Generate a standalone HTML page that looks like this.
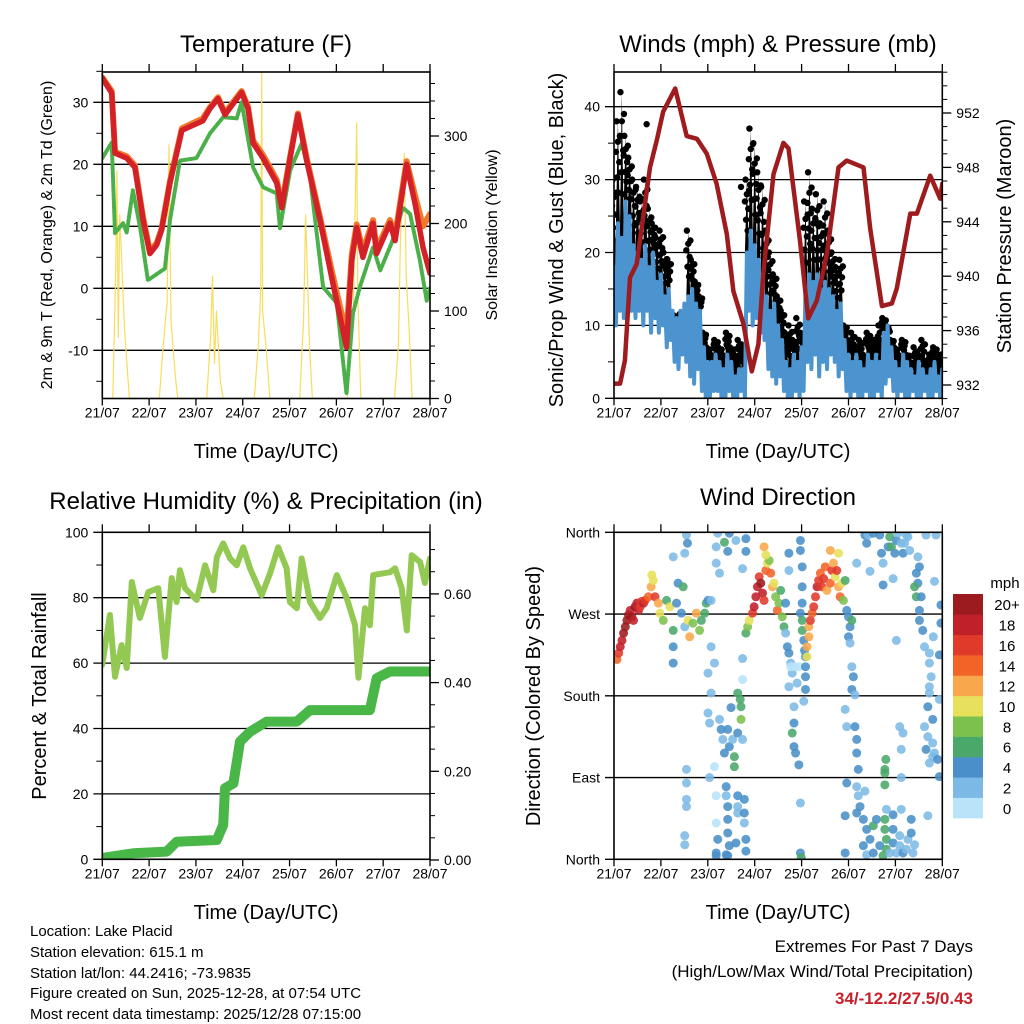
<!DOCTYPE html>
<html><head><meta charset="utf-8"><title>Lake Placid station meteogram</title>
<style>
html,body{margin:0;padding:0;background:#fff;}
svg{display:block;font-family:"Liberation Sans",Arial,sans-serif;}
.t{font-size:24px;fill:#000;text-anchor:middle;}
.xt{font-size:20px;fill:#000;text-anchor:middle;}
.at16{font-size:16px;fill:#000;text-anchor:middle;}
.at20{font-size:20px;fill:#000;text-anchor:middle;}
.info{font-size:15px;fill:#000;}
</style></head>
<body>
<svg id="chart" width="1024" height="1024" viewBox="0 0 1024 1024">
<defs>
<clipPath id="c1"><rect x="102.3" y="72" width="327.7" height="326.5"/></clipPath>
<clipPath id="c2"><rect x="614" y="72" width="328.3" height="326.3"/></clipPath>
<clipPath id="c3"><rect x="102.3" y="532.3" width="327.7" height="327"/></clipPath>
<clipPath id="c4"><rect x="614" y="532.3" width="328.3" height="327"/></clipPath>
</defs>
<text class="t" x="266" y="52">Temperature (F)</text>
<text class="t" x="778" y="52">Winds (mph) &amp; Pressure (mb)</text>
<text class="t" x="266" y="509">Relative Humidity (%) &amp; Precipitation (in)</text>
<text class="t" x="778" y="505">Wind Direction</text>
<text class="xt" x="266" y="458">Time (Day/UTC)</text>
<text class="xt" x="778" y="458">Time (Day/UTC)</text>
<text class="xt" x="266" y="919">Time (Day/UTC)</text>
<text class="xt" x="778" y="919">Time (Day/UTC)</text>
<text class="at16" transform="translate(52,235) rotate(-90)">2m &amp; 9m T (Red, Orange) &amp; 2m Td (Green)</text>
<text class="at16" transform="translate(497,235) rotate(-90)">Solar Insolation (Yellow)</text>
<text class="at20" transform="translate(563,240) rotate(-90)">Sonic/Prop Wind &amp; Gust (Blue, Black)</text>
<text class="at20" transform="translate(1011,236) rotate(-90)">Station Pressure (Maroon)</text>
<text class="at20" transform="translate(46,696) rotate(-90)">Percent &amp; Total Rainfall</text>
<text class="at20" transform="translate(540,696) rotate(-90)">Direction (Colored By Speed)</text>
<g>
<text class="info" x="30" y="936">Location: Lake Placid</text>
<text class="info" x="30" y="957">Station elevation: 615.1 m</text>
<text class="info" x="30" y="978">Station lat/lon: 44.2416; -73.9835</text>
<text class="info" x="30" y="998">Figure created on Sun, 2025-12-28, at 07:54 UTC</text>
<text class="info" x="30" y="1019">Most recent data timestamp: 2025/12/28 07:15:00</text>
</g>
<g>
<text x="973" y="952" style="font-size:17px;text-anchor:end">Extremes For Past 7 Days</text>
<text x="973" y="977" style="font-size:17px;text-anchor:end">(High/Low/Max Wind/Total Precipitation)</text>
<text x="973" y="1004" style="font-size:17px;text-anchor:end;font-weight:bold;fill:#c8202a">34/-12.2/27.5/0.43</text>
</g>
<text x="1005" y="588" style="font-size:15px;text-anchor:middle">mph</text>
</svg>
<script>
// ---------- data ----------
const dayLabels = ["21/07","22/07","23/07","24/07","25/07","26/07","27/07","28/07"];
const tempHours = [0,4.8,6.5,12.5,16.7,20.9,24.4,27.9,30.4,34.7,40.8,51.5,55.2,59.3,62.9,71.4,74.7,77.3,82.4,89.4,92,96.3,100.3,104.8,111.6,118.2,125.2,127.9,130.4,133.6,138.8,140.6,147.5,150.1,156,160.3,164.4,168];
const temp2m = [33.9,31.5,21.8,21,19.5,11,5.6,7,9.4,17,25.5,27,29,30.6,28,31.6,29,23.4,21,17,13,21,28,20.6,11,0.8,-9.5,4.5,9.8,5,10.5,5.6,10.5,7.7,20,13.7,6.6,2.4];
const temp9m = [34,31.8,22,21.3,19.8,11.4,6,7.3,9.6,17.3,25.8,27.4,29.2,30.8,28.3,31.8,29.3,23.8,21.5,17.5,13.5,21.2,28.2,21,11.5,2,-7.5,5.5,10.3,6,11,6.3,11,8.5,20.5,15,10,12];
const dewHours = [0,4.8,6.5,10.6,12.5,15.7,19.4,23.4,32.1,34.7,39.8,48.3,55.2,62,68.9,71.4,77.3,82.4,89.4,91.1,96.3,102.2,106.5,113.2,120.2,125.2,128.5,132,138.8,142.5,148.3,154.1,157.8,162.8,166.3,168];
const dewpoint = [21,23.5,8.9,10.5,9,15.8,9.8,1.3,3.2,11,20.6,21,25,27.6,27.4,30,19.5,16.3,15.3,9.7,19,23.4,18,0.2,-2.4,-17,-4,0.2,6.6,2.9,7.3,13,12,4.5,-2,0];
const solarHours = [0,5.4,6.9,7.5,8.2,8.9,9.9,11.4,12.9,13.9,29.2,31.2,33.2,34.2,35.2,36.2,37.7,38.7,53.5,55.5,56.5,57.5,58.5,60.5,62,77.9,79.9,81.2,81.7,82.2,83.9,85.9,101.2,103.2,104.2,105.2,106.2,107.7,125.5,127.5,128.5,129.5,130.4,131,132.5,149.8,151.8,152.8,154.8,155.8,157.3,158.8,168];
const solarValues = [0,0,150,260,70,210,160,80,30,0,0,60,110,290,90,60,20,0,0,70,140,40,100,20,0,0,60,120,372,100,60,0,0,90,210,140,60,0,0,100,80,200,315,120,0,0,60,180,280,140,80,0,0];
const tempTicks = [-10,0,10,20,30];
const solarTicks = [0,100,200,300];

const windHi = [18,24,22,27,25,21, 20,19,21,18,20, 16,17,14,15, 12,11,12,13, 14,15,13,12, 7,5,5, 6,5,4,6,5,3,4,4, 20,23,21,19,17, 14,12,13,10,8, 5,4,6,5,7, 15,17,16,17,15,16,15, 14,12,13,8, 6,5,6,5,4,6,5,6,5, 9,10,7, 5,4,6,5,4,3,5,4,3,4,5,3,4];
const windLo = [10,12,11,13,12,11, 12,10,12,9,11, 9,10,7,8, 5,4,6,5, 3,2,4,1, 0,0,1, 1,0,0,1,0,0,1,0, 12,10,11,9,8, 4,3,2,3,1, 0,0,1,0,1, 5,4,6,3,5,4,6, 5,3,4,1, 0,1,0,0,1,0,0,1,0, 2,3,1, 0,1,0,0,1,0,0,1,0,0,1,0,0];
const gust = [30,38,42,36,33,30, 29,27,30,26,24, 22,23,20,19, 10,9,11,8, 23,19,16,14, 9,7,6, 8,7,6,9,7,6,8,7, 30,37,35,31,29, 23,20,17,14,12, 9,10,8,11,9, 27,31,26,28,24,27,23, 20,18,19,10, 8,9,7,8,6,9,7,8,10, 11,9,8, 7,6,8,6,5,7,6,8,5,6,7,6,6];
const gustExtraHours = [16.7,65];
const gustExtraValues = [37.6,29];
const pressHours = [0,3.1,5.6,8.2,11.6,18.4,21.9,25.2,31.3,37.2,42.4,47.5,52.5,57.7,61.1,66.2,70.5,73.9,76.4,81.6,86.7,89.3,95.2,99.4,103.8,108.9,114.9,119.1,127.7,131.1,137.1,142.2,144.7,151.6,155,161.8,166.9,168];
const pressure = [932.1,932.1,933.8,939.9,940.9,948,950,952.1,953.8,950.3,950.1,949,946.8,943.1,938.9,936.5,933,935,940.2,947.5,949.8,949.4,942.6,936.9,938.2,941.6,948,948.5,948,943.5,937.8,938,939.1,944.6,944.6,947.4,945.7,946.8];
const windTicks = [0,10,20,30,40];
const pressTicks = [932,936,940,944,948,952];

const rhHours = [0,3.9,6.5,9.9,12.5,15.1,19.3,23.6,28.7,32.1,35.6,38.1,39.8,42.4,48.4,52.7,56.9,58.7,62,65.5,68.9,72.3,75.7,81.7,86,90.2,94.5,96.2,99.7,102.2,106.5,111.6,115,120.2,125.3,129.6,131.3,134.7,137.2,138.9,147.5,150.1,153.5,156.1,158.6,162.9,165.4,168];
const rhValues = [59.5,74.7,55.8,65.5,58.5,84.8,73.8,81.7,82.9,61.9,86,78.7,88.4,82.9,79.3,89.9,82.3,92.4,96.6,92,89.9,95.4,89,80.8,87.5,95.4,89,78.7,76.8,92,78.7,73.8,76.8,86.9,79.9,71.6,55.5,76.8,71.6,86.9,87.8,89,82.9,70,93,90.9,84.5,92];
const precipHours = [0,0.5,15.9,33,38.1,58.7,62,62.9,67.2,70.6,75.7,84.3,99.7,106.5,137.2,140.7,147.5,168];
const precipValues = [0,0.005,0.015,0.019,0.041,0.045,0.079,0.162,0.173,0.267,0.289,0.312,0.312,0.338,0.338,0.41,0.425,0.425];
const rhTicks = [0,20,40,60,80,100];
const precipTicks = ["0.00","0.20","0.40","0.60"];

const dirHours = [1.5,2.4,3.2,4.1,4.9,5.8,6.6,7.4,8.3,9.1,10,10.8,11.7,12.5,13.4,14.2,15.1,15.9,17.6,19,19.3,20.1,21,22.7,23.5,25.2,26.9,28.6,30.3,32,32.8,34.5,35.4,36.2,37.9,38.7,40.4,42.1,43.8,44.7,46.4,47.2,48.1,
37.1,37.6,36.2,30.3,30.3,30.3,49.7,49.7,51.4,48.1,49.7,53.1,52.3,56.5,59,58.2,52.3,54,62.4,67.5,67.5,65.8,65.8,65.8,48.1,48.9,54,54.8,55.7,56.5,58.2,59,60.7,61.6,61.6,63.3,65,64.6,65,65.8,59.9,63.3,37.1,37.1,37.1,37.1,36.2,36.2,51.4,48.9,52.3,52.3,53.1,52.3,57.4,57.4,58.2,58.2,58.2,59,58.2,63.3,63.3,63.3,66.7,66.7,66.7,67.5,67.5,62.4,52.3,57.4,
67.5,68.4,69.2,70.9,71.7,72.6,73.4,74.3,75.1,76,76.8,77.7,78.5,79.4,80.2,81.1,81.9,82.7,83.6,84.4,85.3,86.1,87,87.8,88.7,89.5,90.4,91.2,87.8,89.5,89.5,90.4,92.1,94.6,95.4,95.4,96.3,96.3,96.3,95.4,96.3,96.3,97.1,97.5,98,98,98,98,97.1,93.7,89.5,92.1,92.1,91.2,92.1,92.9,94.6,95.4,95.4,95.8,76.8,77.7,
98.8,98.8,99.7,99.7,100.5,101.4,102.2,103.1,103.9,104.7,105.6,106.4,107.3,108.1,109,110.7,111.5,112.3,113.2,114,114.9,114.9,115.7,116.6,117.4,118.3,110.7,119.1,120,120.8,121.7,120,120.8,121.7,122.5,121.7,123.3,118.3,119.1,123.3,124.2,124.2,125,119.1,124.2,125,128.4,125.9,124.2,127.6,129.3,131,132.7,134.3,127.6,129.3,132.7,136,137.7,139.4,139.4,138.6,138.6,139.4,141.1,142.8,142.8,142.8,144.5,146.2,146.2,147.9,149.6,150.4,152.1,152.1,153,153.8,138.6,138.6,138.6,139.1,118.3,118.3,
124.2,128.4,129.3,130.1,131,132.7,136,136.9,137.7,137.7,140.3,141.1,142,143.7,142.8,144.5,145.3,147,147.9,148.7,149.6,150.4,151.3,155.5,156.3,154.7,155.5,153.8,154.7,157.2,156.3,156.3,158,158.9,161.4,161.4,162.3,161.4,161.4,160.6,163.1,158.9,160.6,163.1,159.7,163.1,161.4,164,165.6,166.5,166.5,164,159.7,164.8,167.3,167.3,166.5,144.5,146.2,147,147.9,147,147,160.6,163.4];
const dirDegrees = [220,227,234,241,249,256,263,269,274,267,263,278,282,274,278,284,282,285,289,300,313,307,289,282,271,263,285,278,252,282,304,271,300,256,263,245,260,271,252,263,271,282,285,
357,348,337,333,234,216,285,234,216,205,183,359,344,349,359,339,326,315,351,353,339,320,221,198,161,150,154,143,132,117,143,124,132,113,102,139,168,176,154,132,167,183,99,84,66,58,26,16,102,90,70,40,22,7,80,70,58,44,29,15,4,70,58,51,66,51,40,22,9,18,4,5,
249,256,263,271,278,289,300,311,304,293,285,318,326,329,315,300,304,289,274,282,296,267,256,249,234,227,216,205,282,318,337,212,212,212,351,340,322,300,282,271,263,252,241,230,223,212,201,187,174,194,190,168,150,139,124,117,104,62,7,2,344,335,
223,234,245,256,263,271,278,289,300,307,315,300,309,322,296,304,318,326,311,318,337,300,289,304,285,307,340,274,267,256,263,245,238,212,201,187,181,165,146,146,132,117,99,84,80,70,75,58,51,44,33,22,37,44,15,5,7,15,4,11,22,33,44,55,7,18,33,49,7,15,26,7,11,22,44,29,7,16,99,95,82,110,7,48,
326,357,348,357,317,359,357,337,326,302,344,355,344,337,309,351,359,348,337,348,357,355,340,333,322,315,304,300,289,289,274,263,252,234,227,216,201,190,183,168,154,146,135,128,121,113,106,117,110,91,176,306,357,357,280,260,225,241,146,121,139,90,55,48,245];
const dirSpeeds = [14,16,18,18,20,20,20,20,18,20,18,20,18,18,16,16,18,16,14,12,10,10,16,12,10,8,6,10,6,4,4,4,6,2,10,12,8,12,8,6,6,6,4,
2,4,2,2,4,4,2,2,2,2,2,2,2,6,4,4,2,2,2,4,4,2,2,0,2,2,2,4,2,4,4,4,2,6,6,4,6,6,8,2,4,6,2,2,2,2,2,2,0,2,0,0,4,4,4,2,4,4,4,4,4,4,2,2,4,4,2,4,4,4,4,4,
6,8,10,16,18,18,18,16,20,18,16,14,10,8,14,12,10,8,14,8,6,8,6,2,4,4,2,2,4,2,4,0,0,0,4,4,4,4,4,4,6,6,4,4,4,4,4,4,2,2,2,2,4,6,4,4,4,2,4,6,12,10,
10,12,12,12,16,14,16,16,18,16,14,16,16,14,12,14,16,12,10,16,10,12,14,10,8,6,12,4,4,4,6,4,2,2,4,4,2,2,2,4,4,4,4,4,2,2,2,4,4,4,4,4,6,4,4,2,4,4,6,6,6,6,6,2,2,4,4,4,2,2,2,4,2,2,4,4,2,2,6,6,6,6,4,4,
2,4,4,2,2,4,4,4,2,4,4,6,6,4,2,4,2,2,4,2,2,2,2,2,4,4,4,6,6,4,4,4,4,2,2,2,2,2,2,4,4,2,2,2,4,2,2,2,4,4,2,2,2,2,4,4,4,2,2,2,2,2,2,2,2];
const dirLabels = ["North","East","South","West","North"];
const speedColors = ["#b9e3f8","#7db9e6","#4a8fc8","#4aa86a","#7cc04e","#e6e05a","#f8a84a","#f26328","#e03a2b","#c0202a","#9b1b1e"];
const speedLabels = ["0","2","4","6","8","10","12","14","16","18","20+"];

// ---------- helpers ----------
const NS = "http://www.w3.org/2000/svg";
const svg = document.getElementById("chart");
function mk(tag, attrs, parent) {
  const e = document.createElementNS(NS, tag);
  for (const k in attrs) e.setAttribute(k, attrs[k]);
  (parent || svg).appendChild(e);
  return e;
}
function mkText(txt, attrs, parent) { const e = mk("text", attrs, parent); e.textContent = txt; return e; }
function panel(x0, x1, y0, y1) {
  return { x0, x1, y0, y1, x: h => x0 + h / 168 * (x1 - x0) };
}
const P1 = panel(102.3, 430, 72, 398.5);
const P2 = panel(614, 942.3, 72, 398.3);
const P3 = panel(102.3, 430, 532.3, 859.3);
const P4 = panel(614, 942.3, 532.3, 859.3);
const yTemp = t => 288.3 - t * 6.2;
const ySolar = s => 398.5 - s * 0.875;
const yWind = v => 398.3 - v * 7.29;
const yPress = p => 385 - (p - 932) * 13.6;
const yRH = r => 859.3 - r * 3.27;
const yPrecip = p => 860 - p * 443.5;
const yDir = d => 859.3 - d / 360 * 327;
function pts(P, hs, vs, yf) { return hs.map((h, i) => P.x(h).toFixed(1) + "," + yf(vs[i]).toFixed(1)).join(" "); }

function axesFrame(P, name, gridVals, yf, leftLabels, minorLeft) {
  const g = mk("g", {});
  
  
  gridVals.forEach((v, i) => {
    const y = yf(v);
    const ln = mk("line", { x1: P.x0 - 9, x2: P.x1, y1: y, y2: y, stroke: "#000", "stroke-width": 1.3 }, g);
    
    
    const tx = mkText(leftLabels[i], { x: P.x0 - 14, y: y + 5, "font-size": 14, "text-anchor": "end" }, g);
    
    
  });
  (minorLeft || []).forEach(v => {
    const y = yf(v);
    mk("line", { x1: P.x0 - 6, x2: P.x0, y1: y, y2: y, stroke: "#000", "stroke-width": 1 }, g);
  });
  for (let d = 0; d <= 7; d++) {
    const x = P.x(d * 24);
    mk("line", { x1: x, x2: x, y1: P.y0 - 8, y2: P.y0, stroke: "#000", "stroke-width": 1.3 }, g);
    mk("line", { x1: x, x2: x, y1: P.y1, y2: P.y1 + 7, stroke: "#000", "stroke-width": 1.3 }, g);
    const tl = mkText(dayLabels[d], { x: x, y: P.y1 + 19, "font-size": 14, "text-anchor": "middle" }, g);
    
    
  }
  return g;
}
function frameBox(P, name) {
  const r = mk("rect", { x: P.x0, y: P.y0, width: P.x1 - P.x0, height: P.y1 - P.y0, fill: "none", stroke: "#000", "stroke-width": 1.6 });
  
  
}
function rightAxis(P, name, vals, yf, labels, minor) {
  const g = mk("g", {});
  
  
  vals.forEach((v, i) => {
    const y = yf(v);
    mk("line", { x1: P.x1, x2: P.x1 + 9, y1: y, y2: y, stroke: "#000", "stroke-width": 1.3 }, g);
    const t = mkText(labels[i], { x: P.x1 + 14, y: y + 5, "font-size": 14 }, g);
    
    
  });
  minor.forEach(v => { const y = yf(v); mk("line", { x1: P.x1, x2: P.x1 + 5, y1: y, y2: y, stroke: "#000", "stroke-width": 1 }, g); });
}
function line(P, clip, hs, vs, yf, color, w, name, extra) {
  const a = { points: pts(P, hs, vs, yf), fill: "none", stroke: color, "stroke-width": w, "stroke-linejoin": "round", "stroke-linecap": "round", "clip-path": "url(#" + clip + ")" };
  for (const k in (extra || {})) a[k] = extra[k];
  const e = mk("polyline", a);
  
  
  return e;
}

// ---------- Panel 1: temperature ----------
axesFrame(P1, "temperature", tempTicks, yTemp, tempTicks.map(String), [-15, -5, 5, 15, 25, 35]);
rightAxis(P1, "solar", solarTicks, ySolar, solarTicks.map(String), [20, 40, 60, 80, 120, 140, 160, 180, 220, 240, 260, 280, 320, 340, 360]);
line(P1, "c1", solarHours, solarValues, ySolar, "#f8dc5c", 1.2, "solar-insolation-line");
line(P1, "c1", tempHours, temp9m, yTemp, "#f07a2a", 6, "temp-9m-line");
line(P1, "c1", dewHours, dewpoint, yTemp, "#4cb04a", 4, "dewpoint-2m-line", { "stroke-dasharray": "2.5 1.8" });
line(P1, "c1", tempHours, temp2m, yTemp, "#d42027", 5.5, "temp-2m-line");
frameBox(P1, "temperature");

// ---------- Panel 2: winds & pressure ----------
axesFrame(P2, "winds", windTicks, yWind, windTicks.map(String), [5, 15, 25, 35]);
const pMinor = [];
for (let p = 931; p <= 955; p++) if (p % 4 !== 0) pMinor.push(p);
rightAxis(P2, "pressure", pressTicks, yPress, pressTicks.map(String), pMinor);
const gg = mk("g", { "clip-path": "url(#c2)" });


const fr = [[-0.7, 1], [0, 0.8], [0.7, 0.6], [-0.4, 0.45], [0.4, 0.3], [1.1, 0.85], [-1, 0.7]];
gust.forEach((g, i) => {
  const h = i * 2, lo = windHi[i];
  const tri = mk("polygon", { points: P2.x(h - 1) + "," + yWind(lo) + " " + P2.x(h) + "," + yWind(g) + " " + P2.x(h + 1) + "," + yWind(lo), fill: "#000" }, gg);
  
  
  fr.forEach(f => {
    const c = mk("circle", { cx: P2.x(h + f[0]), cy: yWind(lo + (g - lo) * f[1]), r: 3.2, fill: "#000" }, gg);
    
    
  });
});
gustExtraHours.forEach((h, i) => {
  const c = mk("circle", { cx: P2.x(h), cy: yWind(gustExtraValues[i]), r: 3.2, fill: "#000" }, gg);
  
  
});
const windH = [], windV = [];
windHi.forEach((v, i) => { windH.push(i * 2); windV.push(v); windH.push(i * 2 + 1); windV.push(windLo[i]); });
line(P2, "c2", windH, windV, yWind, "#4c94d0", 4, "wind-speed-line");
line(P2, "c2", pressHours, pressure, yPress, "#9e1b1e", 4.5, "pressure-line");
frameBox(P2, "winds");

// ---------- Panel 3: RH & precip ----------
axesFrame(P3, "humidity", rhTicks, yRH, rhTicks.map(String), [10, 30, 50, 70, 90]);
rightAxis(P3, "precip", [0, 0.2, 0.4, 0.6], yPrecip, precipTicks, [0.05, 0.1, 0.15, 0.25, 0.3, 0.35, 0.45, 0.5, 0.55, 0.65, 0.7]);
line(P3, "c3", rhHours, rhValues, yRH, "#93c953", 6, "relative-humidity-line");
line(P3, "c3", precipHours, precipValues, yPrecip, "#49b648", 10, "precipitation-line");
frameBox(P3, "humidity");

// ---------- Panel 4: wind direction ----------
axesFrame(P4, "direction", [0, 90, 180, 270, 360], yDir, dirLabels, []);
const dg = mk("g", { "clip-path": "url(#c4)" });


dirHours.forEach((h, i) => {
  const idx = Math.min(10, Math.round(dirSpeeds[i] / 2));
  const c = mk("circle", { cx: P4.x(h), cy: yDir(dirDegrees[i]), r: 4.5, fill: speedColors[idx], "fill-opacity": 0.88 }, dg);
  
  
});
frameBox(P4, "direction");

// colorbar
const cb = mk("g", {});


const cbTop = 594, cbH = 224 / 11;
speedColors.forEach((col, k) => {
  const y = cbTop + (10 - k) * cbH;
  const r = mk("rect", { x: 953, y: y, width: 30, height: cbH + 0.3, fill: col }, cb);
  
  
  const t = mkText(speedLabels[k], { x: 1007, y: y + cbH / 2 + 6, "font-size": 15, "text-anchor": "middle" }, cb);
  
  
});
</script>
</body></html>
